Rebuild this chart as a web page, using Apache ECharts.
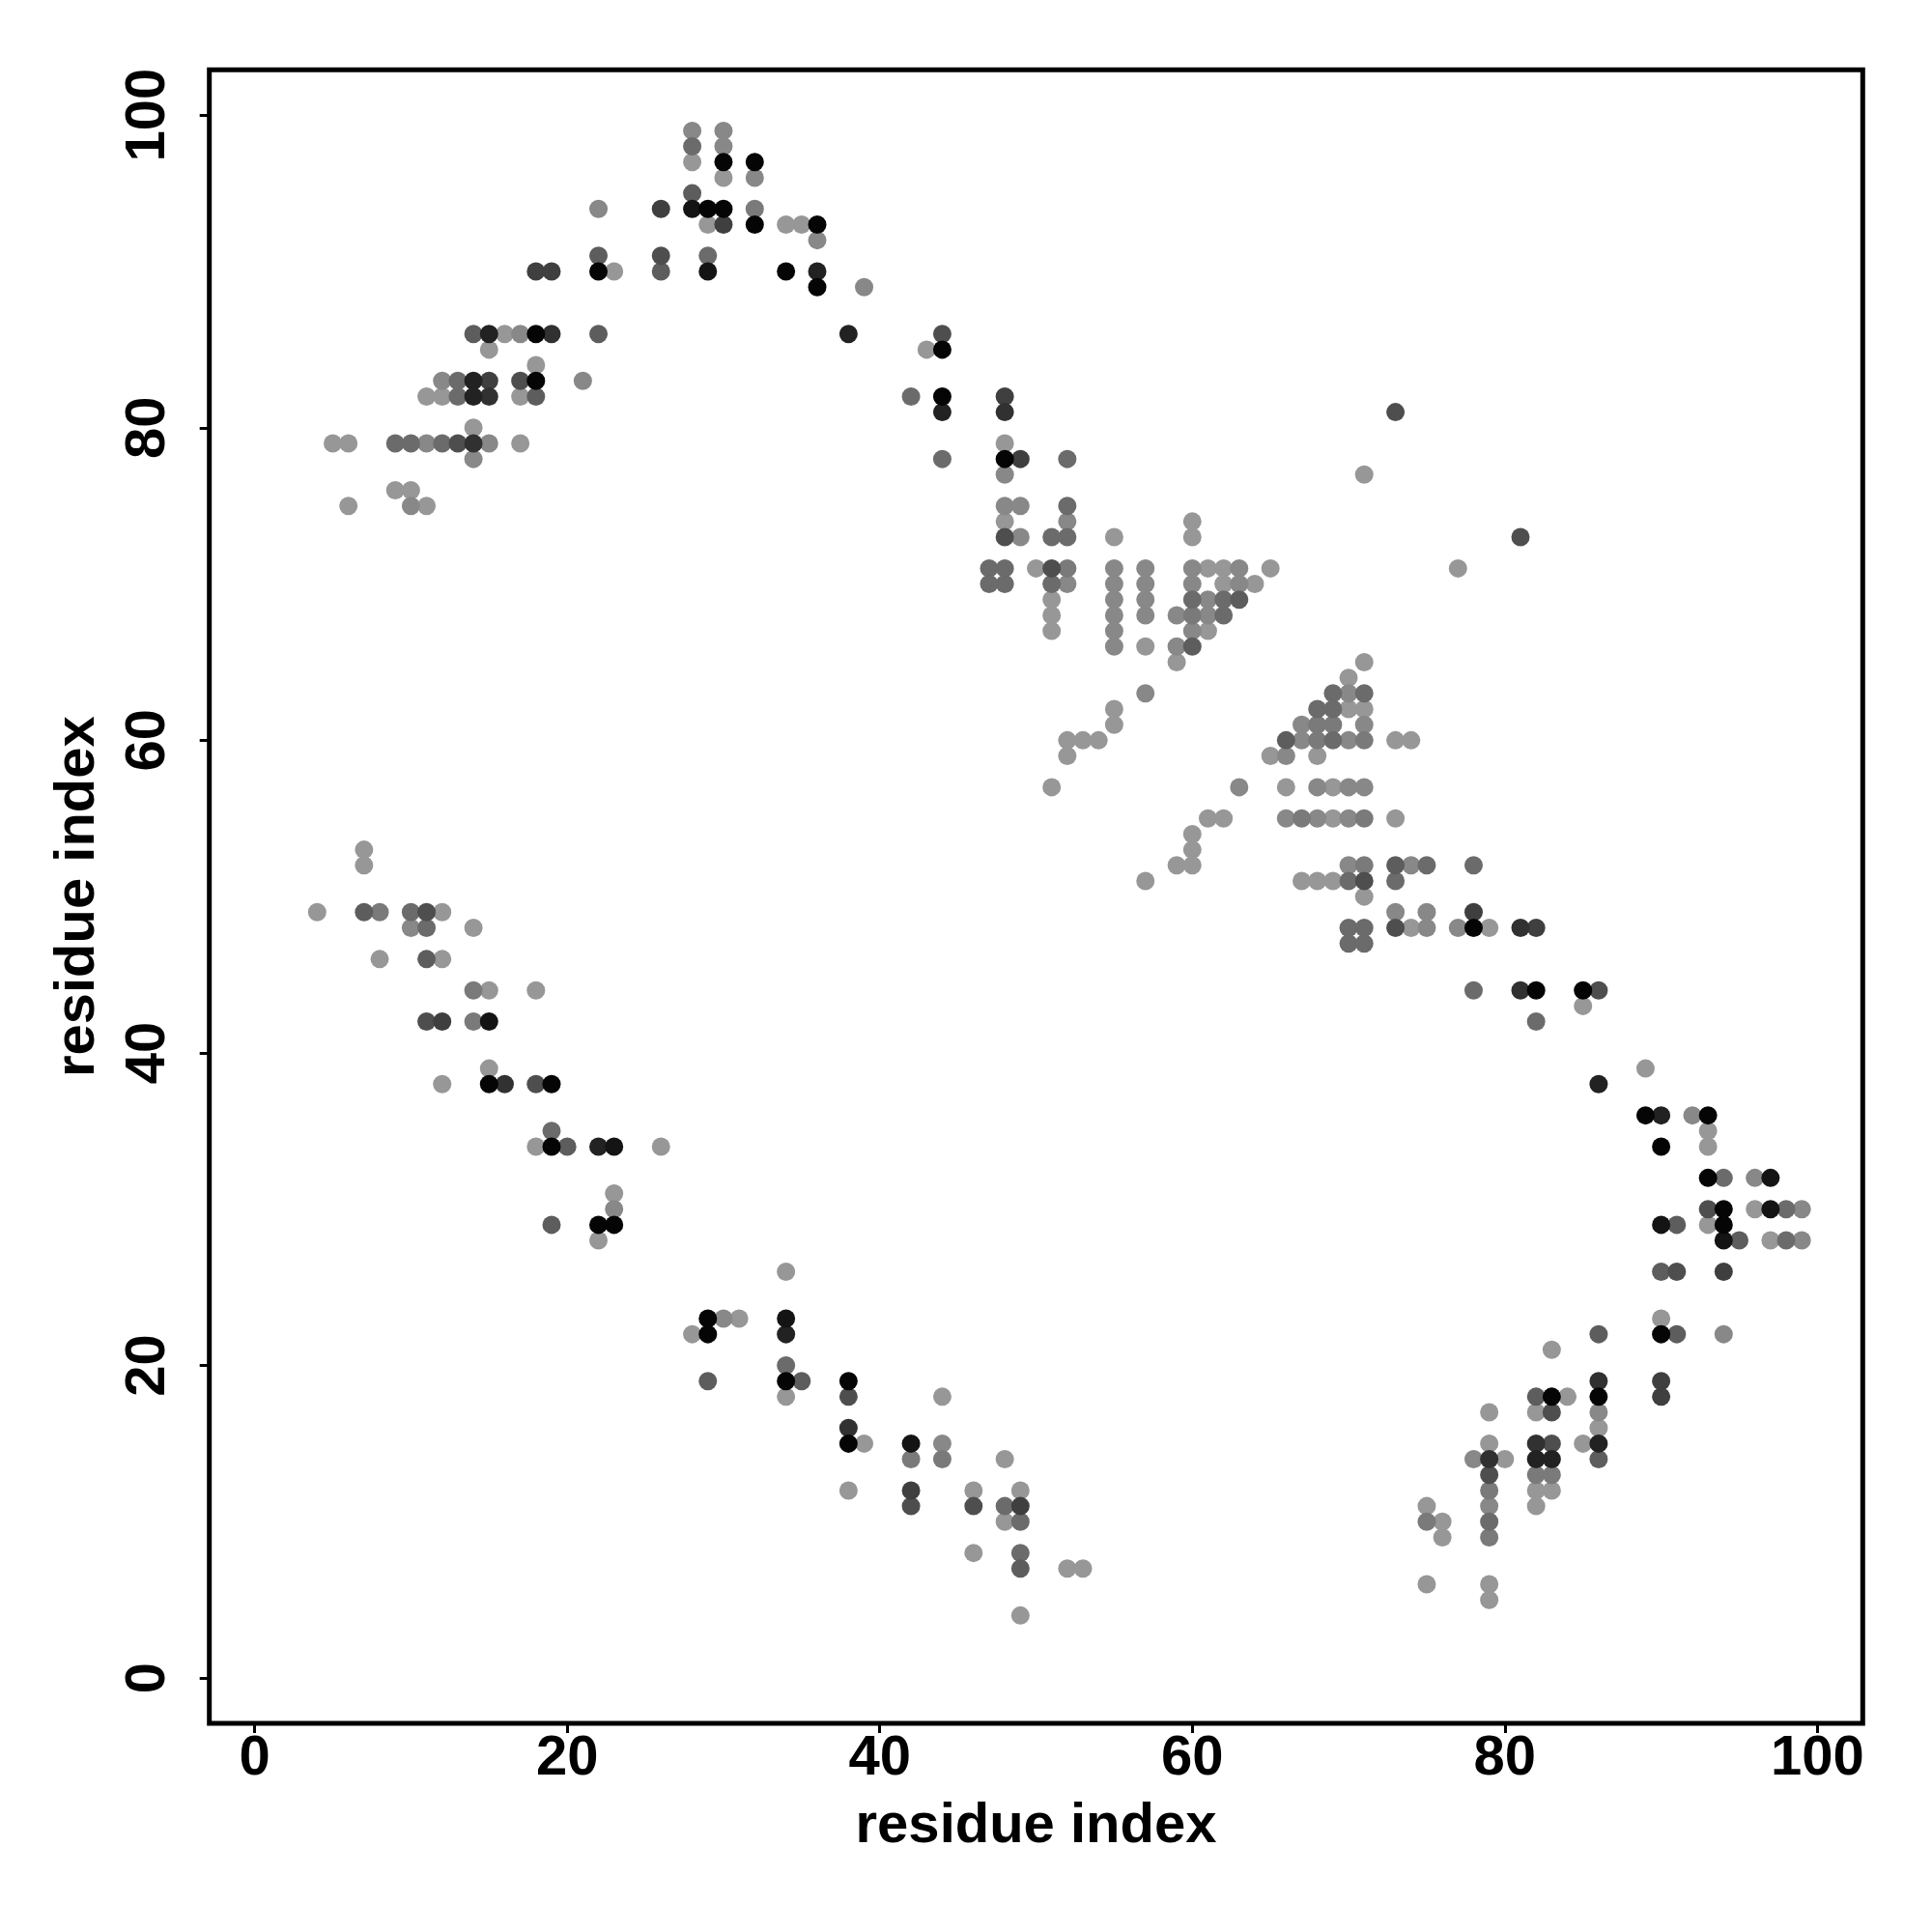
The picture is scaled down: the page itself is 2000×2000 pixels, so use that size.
<!DOCTYPE html>
<html>
<head>
<meta charset="utf-8">
<script src="https://cdn.jsdelivr.net/npm/echarts@6/dist/echarts.min.js"></script>
<style>html,body{margin:0;padding:0;background:#fff}#chart{width:2000px;height:2000px}</style>
</head>
<body>
<div id="chart"></div>
<script>
// Contacts as [residue i, residue j, shade level 0 (light) .. 10 (black)]
const clusterA = [[22,94,1],[26,94,6],[22,91,4],[22,90,10],[23,90,0],[26,91,5],[26,90,4],[18,90,6],[19,90,6],
[14,86,4],[15,86,8],[16,86,0],[17,86,1],[18,86,10],[19,86,7],[22,86,4],[15,85,0],[18,84,0],
[12,83,1],[13,83,3],[14,83,8],[15,83,6],[17,83,5],[18,83,10],[21,83,1],
[11,82,0],[12,82,0],[13,82,3],[14,82,8],[15,82,7],[17,82,0],[18,82,4],
[14,80,0],[5,79,0],[6,79,0],[9,79,3],[10,79,3],[11,79,1],[12,79,3],[13,79,5],[14,79,7],[15,79,1],[17,79,0],
[14,78,1],[9,76,0],[10,76,0],[6,75,0],[10,75,1],[11,75,0]];
const clusterB = [[28,99,1],[28,98,3],[28,97,0],[30,99,1],[30,98,1],[30,97,10],[30,96,0],[32,97,10],[32,96,1],
[28,95,4],[28,94,9],[29,94,10],[30,94,10],[32,94,2],[29,93,0],[30,93,6],[32,93,10],[34,93,0],[35,93,0],[36,93,10],[36,92,1],
[29,91,3],[29,90,9],[34,90,10],[36,90,8],[36,89,10],[39,89,1],[38,86,8],[44,86,5],[44,85,10],[43,85,0],
[42,82,3],[44,82,10],[44,81,8],[48,82,6],[48,81,7],[44,78,3],[48,79,0],[48,78,10],[49,78,6],[48,77,1]];
const clusterC = [[52,78,3],[48,75,1],[49,75,1],[52,75,3],[48,74,0],[52,74,1],[48,73,5],[49,73,1],[51,73,3],[52,73,3],[55,73,0],[60,74,0],[60,73,0],
[47,71,3],[48,71,3],[50,71,0],[51,71,5],[52,71,2],[55,71,1],[57,71,1],[60,71,1],[61,71,0],[62,71,0],[63,71,1],[65,71,0],
[47,70,3],[48,70,3],[51,70,3],[52,70,1],[55,70,1],[57,70,1],[60,70,1],[62,70,0],[63,70,1],[64,70,0],
[51,69,0],[55,69,1],[57,69,1],[60,69,3],[61,69,1],[62,69,3],[63,69,4],
[51,68,0],[55,68,1],[57,68,1],[59,68,1],[60,68,2],[61,68,1],[62,68,3],
[51,67,0],[55,67,1],[60,67,1],[61,67,0],
[55,66,1],[57,66,0],[59,66,1],[60,66,4],[59,65,0],[57,63,1],[55,62,0],[55,61,0],
[52,60,0],[53,60,0],[54,60,0],[52,59,0],[51,57,0],
[61,55,0],[62,55,0],[60,54,0],[60,53,0],[59,52,0],[60,52,0],[57,51,0]];
const clusterD = [[63,57,1],[73,81,5],[71,77,0],[81,73,5],[77,71,0],[71,65,0],[70,64,0],
[69,63,3],[70,63,1],[71,63,3],[68,62,3],[69,62,3],[70,62,0],[71,62,0],
[67,61,1],[68,61,2],[69,61,2],[71,61,1],
[66,60,4],[67,60,1],[68,60,2],[69,60,3],[70,60,1],[71,60,2],[73,60,0],[74,60,0],
[65,59,0],[66,59,1],[68,59,0],
[66,57,0],[68,57,1],[69,57,0],[70,57,1],[71,57,1],
[66,55,1],[67,55,2],[68,55,1],[69,55,0],[70,55,1],[71,55,2],[73,55,0],
[70,52,1],[71,52,2],[73,52,4],[74,52,1],[75,52,3],[78,52,3],
[67,51,0],[68,51,0],[69,51,0],[70,51,3],[71,51,5],[73,51,3],[71,50,0],
[73,49,1],[75,49,1],[78,49,6],
[70,48,3],[71,48,3],[73,48,5],[74,48,0],[75,48,1],[77,48,1],[78,48,10],[79,48,0],[81,48,7],[82,48,6],
[70,47,3],[71,47,3],[78,44,3],[81,44,7],[82,44,10]];
const clusterE = [[85,44,10],[86,44,5],[85,43,0],[82,42,3],[89,39,0],[86,38,8],
[89,36,10],[90,36,8],[92,36,1],[93,36,10],[93,35,0],[90,34,10],[93,34,0],
[93,32,10],[94,32,3],[96,32,1],[97,32,9],
[93,30,5],[94,30,10],[96,30,0],[97,30,9],[98,30,3],[99,30,1],
[90,29,9],[91,29,4],[93,29,0],[94,29,10],
[94,28,9],[95,28,4],[97,28,0],[98,28,3],[99,28,1],
[90,26,4],[91,26,5],[94,26,6],[90,23,0],[86,22,4],[90,22,10],[91,22,4],[94,22,1],[83,21,0]];
const clusterF = [[7,53,0],[7,52,0],[4,49,0],[7,49,4],[8,49,2],[10,49,3],[11,49,5],[12,49,0],
[10,48,1],[11,48,3],[14,48,0],[8,46,0],[11,46,4],[12,46,0],
[14,44,2],[15,44,0],[18,44,0],[11,42,5],[12,42,6],[14,42,2],[15,42,9],
[15,39,0],[12,38,0],[15,38,10],[16,38,7],[18,38,5],[19,38,10],[19,35,3],
[18,34,0],[19,34,10],[20,34,4],[22,34,8],[23,34,9],[26,34,0],
[23,31,0],[23,30,1],[19,29,4],[22,29,10],[23,29,10],[22,28,0]];
const clusterG = [[34,26,0],[29,23,10],[30,23,1],[31,23,0],[34,23,9],[28,22,0],[29,22,10],[34,22,8],[34,20,3],
[29,19,4],[34,19,10],[35,19,4],[38,19,10],[34,18,0],[38,18,5],[44,18,0],[38,16,7],
[38,15,10],[39,15,0],[42,15,9],[44,15,1],[42,14,2],[44,14,2],[48,14,0],
[38,12,0],[42,12,6],[46,12,0],[49,12,0],[42,11,5],[46,11,5],[48,11,3],[49,11,6],
[48,10,0],[49,10,3],[46,8,0],[49,8,3],[49,7,4],[52,7,0],[53,7,0],[49,4,0]];
const clusterH = [[86,19,7],[90,19,6],[82,18,4],[83,18,10],[84,18,0],[86,18,10],[90,18,6],
[79,17,0],[82,17,0],[83,17,5],[86,17,1],[86,16,0],
[79,15,0],[82,15,7],[83,15,5],[85,15,0],[86,15,8],
[78,14,1],[79,14,7],[80,14,0],[82,14,8],[83,14,8],[86,14,4],
[79,13,5],[82,13,2],[83,13,2],[79,12,2],[82,12,0],[83,12,0],
[75,11,0],[79,11,1],[82,11,0],[75,10,2],[76,10,0],[79,10,3],[76,9,0],[79,9,2],[75,6,0],[79,6,0],[79,5,0]];
const tickValues = [0, 20, 40, 60, 80, 100];
const axisTitle = 'residue index';

const allPoints = [].concat(clusterA, clusterB, clusterC, clusterD, clusterE, clusterF, clusterG, clusterH)
  .slice().sort((a, b) => a[2] - b[2]);

const FONT = '"Liberation Sans", Arial, Helvetica, sans-serif';
const chart = echarts.init(document.getElementById('chart'), null, {renderer: 'canvas'});
const axisCommon = {
  type: 'value', min: -2.9, max: 102.9,
  axisLine: {show: false, onZero: false},
  splitLine: {show: false},
  axisTick: {show: true, length: 10, inside: false, lineStyle: {color: '#000', width: 3}, customValues: tickValues},
  nameTextStyle: {fontFamily: FONT, fontWeight: 'bold', fontSize: 58, color: '#000'},
  name: axisTitle, nameLocation: 'middle'
};
chart.setOption({
  animation: false,
  backgroundColor: '#fff',
  grid: {left: 216.7, right: 71.7, top: 72.3, bottom: 216, show: true, borderColor: '#000', borderWidth: 5, backgroundColor: 'transparent'},
  visualMap: {show: false, type: 'continuous', dimension: 2, min: 0, max: 10, inRange: {color: ['#979797', '#050505']}},
  xAxis: Object.assign({}, axisCommon, {
    nameGap: 78,
    axisLabel: {customValues: tickValues, margin: 8, fontFamily: FONT, fontWeight: 'bold', fontSize: 58, color: '#000'}
  }),
  yAxis: Object.assign({}, axisCommon, {
    nameGap: 107,
    axisLabel: {customValues: tickValues, rotate: 90, margin: 34, fontFamily: FONT, fontWeight: 'bold', fontSize: 58, color: '#000'}
  }),
  series: [{
    type: 'scatter',
    symbol: 'circle',
    symbolSize: 19,
    data: allPoints,
    itemStyle: {opacity: 1}
  }]
});
</script>
</body>
</html>
